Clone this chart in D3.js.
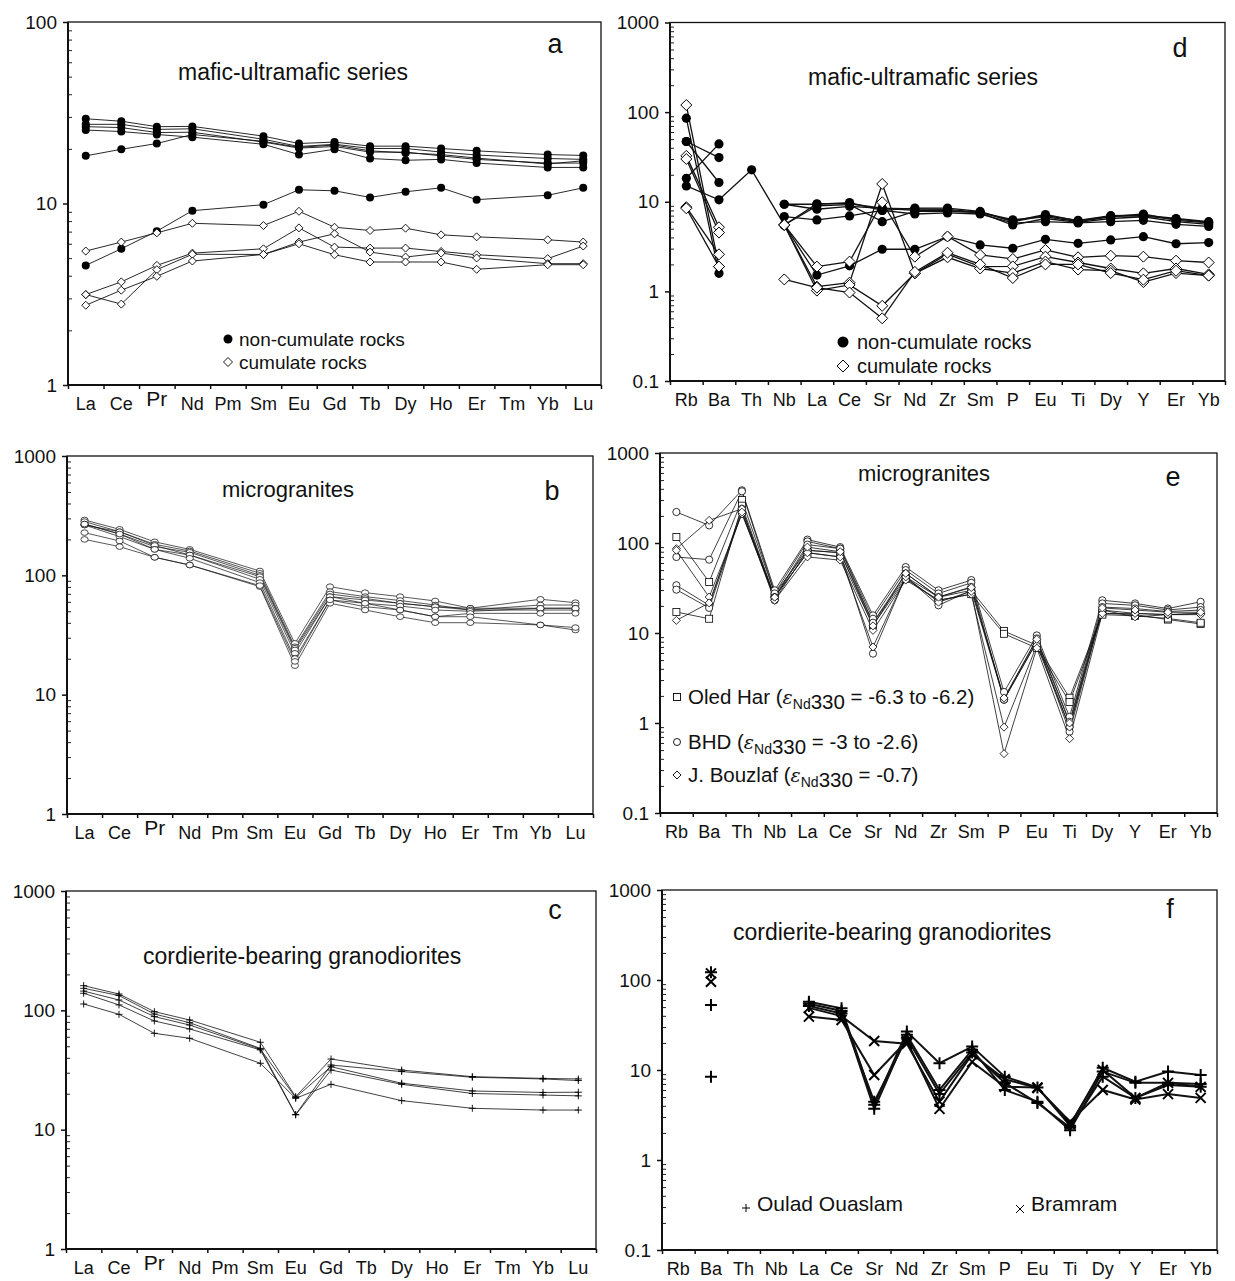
<!DOCTYPE html>
<html>
<head>
<meta charset="utf-8">
<script src="https://cdn.jsdelivr.net/npm/d3@7"></script>
<style>
  body { margin: 0; background: #fff; }
  svg { display: block; }
</style>
</head>
<body>
<svg id="fig" width="1235" height="1281"></svg>
<script>
var FONT = '"Liberation Sans", Arial, Helvetica, sans-serif'

// element orders
var REE = ['La','Ce','Pr','Nd','Pm','Sm','Eu','Gd','Tb','Dy','Ho','Er','Tm','Yb','Lu']
var SPIDER = ['Rb','Ba','Th','Nb','La','Ce','Sr','Nd','Zr','Sm','P','Eu','Ti','Dy','Y','Er','Yb']

// y tick labels
var ticks2 = [1, 10, 100]
var ticks3 = [1, 10, 100, 1000]
var ticks5 = [0.1, 1, 10, 100, 1000]

// a - REE, mafic-ultramafic
var aNonCumulate = [
  [29.3, 28.4, 26.5, 26.6, null, 23.5, 21.4, 21.8, 20.7, 20.7, 20.1, 19.5, null, 18.6, 18.4],
  [27.3, 27.3, 25.6, 25.8, null, 22.6, 20.6, 21.2, 20.1, 20.1, 19.2, 18.5, null, 17.7, 17.5],
  [26.5, 26.2, 24.6, 24.7, null, 21.8, 20.2, 20.6, 19.2, 19.2, 18.3, 17.5, null, 16.7, 16.7],
  [25.4, 24.9, 24.0, 23.2, null, 21.2, 18.6, 19.9, 17.7, 17.3, 17.5, 16.7, null, 15.8, 15.8],
  [18.3, 19.9, 21.4, 24.0, null, 22.0, 20.4, 21.0, 19.5, 19.0, 18.6, 17.8, null, 16.5, 17.2],
  [4.56, 5.63, 7.04, 9.13, null, 9.85, 11.9, 11.75, 10.8, 11.6, 12.2, 10.5, null, 11.1, 12.2]
]
var aCumulate = [
  [5.47, 6.13, 6.89, 7.78, null, 7.56, 9.06, 7.40, 7.10, 7.31, 6.72, 6.55, null, 6.31, 6.13],
  [3.15, 3.70, 4.56, 5.33, null, 5.63, 7.34, 5.75, 5.68, 5.68, 5.44, 5.22, null, 4.97, 5.83],
  [3.15, 2.79, 4.32, 5.25, null, 5.24, 6.13, 6.81, 5.40, 5.07, 5.33, 5.01, null, 4.66, 4.66],
  [2.75, 3.33, 3.97, 4.82, null, 5.24, 6.00, 5.22, 4.76, 4.76, 4.76, 4.34, null, 4.60, 4.60]
]

// b - REE, microgranites
var bMicrogranites = [
  [291, 243, 191, 165, null, 108.7, 26.9, 80.4, 71.6, 66.3, 61, 53, null, 63, 59],
  [282, 232, 182, 160, null, 104, 25.2, 73, 66.3, 61.5, 56.4, 51.2, null, 56.4, 56.4],
  [269, 222, 174, 156, null, 100, 24.5, 69.8, 64, 58.3, 54.6, 53, null, 53, 53],
  [264, 232, 178, 148, null, 97.5, 23.7, 66.3, 62.2, 58.3, 54.6, 51.2, null, 51.2, 51.2],
  [264, 211, 165, 148, null, 92.6, 22.2, 66.3, 58.3, 55.3, 51.2, 50, null, 53, 53],
  [269, 222, 165, 139, null, 86.9, 20.1, 62.2, 54.6, 51.2, 45, 48, null, 48, 48],
  [228, 194, 141.6, 122, null, 80.4, 17.5, 58.3, 51.2, 45, 40.1, 40.1, null, 38.4, 34.8],
  [200, 174, 141.6, 122, null, 82, 19, 62.2, 58.3, 51.2, 45, 45, null, 38.4, 36.5]
]

// c - REE, cordierite-bearing granodiorites
var cGranodiorites = [
  [161, 137, 97.5, 83, null, 54, 18.9, 39.1, null, 31.6, null, 27.8, null, 26.9, 26.6],
  [153, 133, 93.1, 78.8, null, 48, 13.4, 34.8, null, 30.7, null, 27.5, null, 26.6, 25.8],
  [145, 122, 88.6, 75.3, null, 47.4, 18.6, 33.7, null, 24.5, null, 21.1, null, 20.5, 20.6],
  [139, 111, 81.4, 69.8, null, 46.6, 13.3, 31.6, null, 24, null, 20.1, null, 19.5, 19.2],
  [113, 92.6, 64.2, 58.3, null, 36, 18.3, 24, null, 17.5, null, 15.1, null, 14.6, 14.6]
]

// d - spider, mafic-ultramafic
var dNonCumulate = [
  [85.5, 1.59, null, 9.38, 9.38, 9.8, 8.0, 8.5, 8.5, 7.8, 6.0, 7.0, 6.2, 7.0, 7.1, 6.5, 6.0],
  [47, 31.1, null, 9.38, 8.25, 8.9, 8.46, 8.0, 8.0, 7.5, 5.5, 6.5, 5.9, 6.5, 6.8, 6.0, 5.6],
  [18.3, 44.2, null, 6.83, 6.27, 6.95, 8.0, 7.3, 7.5, 7.3, 5.8, 6.0, 5.8, 6.0, 6.2, 5.6, 5.3],
  [47, 16.4, null, 5.51, 9.0, 9.3, 6.0, 7.8, 7.8, 7.6, 6.3, 6.8, 6.0, 6.8, 7.3, 6.2, 5.8],
  [15, 10.5, 22.7, 5.51, 9.5, 9.5, 8.46, 8.3, 8.2, 7.6, 6.1, 7.2, 6.1, 6.9, 6.9, 6.4, 5.9],
  [null, null, null, 5.51, 1.52, 1.93, 2.95, 2.95, 4.08, 3.3, 3.03, 3.81, 3.44, 3.75, 4.08, 3.4, 3.5]
]
var dCumulate = [
  [120, 1.89, null, 5.51, 1.89, 2.15, 9.87, 2.44, 4.1, 2.55, 2.3, 2.9, 2.4, 2.5, 2.44, 2.2, 2.1],
  [32.5, 5.19, null, 5.51, 1.13, 1.25, 15.8, 1.59, 2.6, 1.89, 1.9, 2.44, 2.1, 1.8, 1.59, 1.8, 1.55],
  [30, 4.53, null, 5.51, 1.02, 1.18, 0.69, 1.59, 2.4, 1.8, 1.6, 2.15, 1.75, 1.7, 1.27, 1.6, 1.5],
  [8.7, 2.59, null, 1.36, 1.10, 0.97, 0.50, 1.65, 2.7, 2.0, 1.41, 2.0, 2.0, 1.6, 1.35, 1.7, 1.5],
  [8.45, 1.89, null, null, null, null, null, null, null, null, null, null, null, null, null, null, null]
]

// e - spider, microgranites
var eOledHar = [
  [116.6, 36.9, 300, 27.5, 83, 78, 13, 42, 25, 29.8, 10.5, 7.3, 1.91, 16.5, 16.0, 14.1, 12.6],
  [17.1, 14.4, 260, 25.1, 78, 70, 12.2, 40, 23.1, 27, 9.8, 6.8, 1.71, 16.0, 15.5, 14.5, 13.0]
]
var eBHD = [
  [221, 157, 385, 29.8, 109, 90, 15.7, 54, 29.8, 38.7, 2.21, 9.4, 1.17, 23.1, 21.3, 18.7, 22.2],
  [69.9, 65.3, 375, 27.5, 104, 86.5, 14.4, 50, 27.5, 36.1, 1.82, 8.7, 1.03, 21.3, 20.3, 18.0, 19.4],
  [33.9, 20.3, 240, 25.1, 96, 86.5, 13.0, 46, 25.1, 32.5, 1.82, 8.0, 0.9, 19.4, 18.7, 17.3, 18.0],
  [30.3, 19, 220, 23.1, 83, 78, 5.9, 42.2, 20.3, 29.8, 1.82, 8.0, 0.8, 18.0, 16.5, 16.0, 16.5]
]
var eBouzlaf = [
  [86.5, 178.6, 240, 23.1, 70, 64.5, 10.7, 38.7, 23.1, 27, 0.90, 7.3, 0.9, 18, 15.1, 16, 16.5],
  [83, 25.1, 210, 25.1, 78, 70, 7.0, 42, 22, 29, 0.456, 6.8, 0.67, 16.5, 16.5, 16.0, 16.0],
  [13.8, 21.6, 220, 25, 90, 80, 12, 46, 25, 32, 1.9, 8.5, 1.0, 19, 18, 17, 17]
]

// f - spider, cordierite-bearing granodiorites
var fOuladOuaslam = [
  [null, 52.7, null, null, 57.4, 48.4, 4.1, 26.7, 11.9, 18.2, 8.43, 6.4, 2.4, 10.6, 7.42, 9.6, 8.8],
  [null, 8.43, null, null, 54.5, 45.3, 3.7, 24.6, 6.0, 16.8, 6.0, 4.45, 2.14, 9.6, 7.2, 7.2, 7.0],
  [null, 122, null, null, 51.5, 42.4, 4.45, 22.8, 5.4, 15.6, 7.2, 4.3, 2.3, 8.43, 4.9, 6.8, 6.5]
]
var fBramram = [
  [null, 118.6, null, null, 49, 39.7, 21, 19.6, 4.45, 15.0, 7.9, 6.3, 2.67, 6.0, 4.7, 5.4, 4.9],
  [null, 95.8, null, null, 39.2, 36, 8.8, 21.1, 3.7, 12.3, 6.5, 6.4, 2.5, 10.0, 4.9, 7.2, 6.5]
]

var svg = d3.select('#fig')

function marker(sel, type, s, sw) {
  if (type == 'dot') sel.append('circle').attr('r', s).attr('fill', '#000')
  if (type == 'ring') sel.append('ellipse').attr('rx', s).attr('ry', s * 0.78)
      .attr('fill', '#fff').attr('stroke', '#000').attr('stroke-width', sw)
  if (type == 'circle') sel.append('circle').attr('r', s)
      .attr('fill', '#fff').attr('stroke', '#000').attr('stroke-width', sw)
  if (type == 'diamond') sel.append('path').attr('d', 'M0,' + (-s) + 'L' + s + ',0L0,' + s + 'L' + (-s) + ',0Z')
      .attr('fill', '#fff').attr('stroke', '#000').attr('stroke-width', sw)
  if (type == 'square') sel.append('rect').attr('x', -s).attr('y', -s).attr('width', 2 * s).attr('height', 2 * s)
      .attr('fill', '#fff').attr('stroke', '#000').attr('stroke-width', sw)
  if (type == 'plus') sel.append('path').attr('d', 'M' + (-s) + ',0H' + s + 'M0,' + (-s) + 'V' + s)
      .attr('fill', 'none').attr('stroke', '#000').attr('stroke-width', sw)
  if (type == 'cross') sel.append('path').attr('d', 'M' + (-s) + ',' + (-s) + 'L' + s + ',' + s + 'M' + s + ',' + (-s) + 'L' + (-s) + ',' + s)
      .attr('fill', 'none').attr('stroke', '#000').attr('stroke-width', sw)
}

function txt(x, y, s, size, anchor) {
  return svg.append('text').attr('x', x).attr('y', y).attr('font-size', size)
    .attr('font-family', FONT).attr('fill', '#111').attr('text-anchor', anchor || 'start').text(s)
}

function drawPanel(p) {
  var n = p.cats.length
  var x = d3.scaleBand().domain(p.cats).range([p.left, p.right])
  var xEdge = d3.scaleLinear().domain([0, n]).range([p.left, p.right])
  var y = d3.scaleLog().domain(p.domain).range([p.bottom, p.top])
  var cx = function(c) { return x(c) + x.bandwidth() / 2 }
  var g = svg.append('g')

  // minor ticks, inside
  var minors = y.ticks().filter(function(v) {
    var l = Math.log10(v); return Math.abs(l - Math.round(l)) > 1e-6 })
  g.append('g').attr('transform', 'translate(' + p.left + ',0)')
      .call(d3.axisLeft(y).tickValues(minors).tickSizeInner(-4).tickSizeOuter(0).tickFormat(''))
      .call(function(a) { a.select('.domain').remove() })
      .selectAll('line').attr('stroke', '#222')

  // major ticks + labels
  var yax = g.append('g').attr('transform', 'translate(' + p.left + ',0)')
      .call(d3.axisLeft(y).tickValues(p.yTicks).tickSize(5).tickPadding(6).tickFormat(d3.format('~g')))
  yax.select('.domain').remove()
  yax.selectAll('line').attr('stroke', '#111').attr('stroke-width', 1.5)
  yax.selectAll('text').attr('font-size', 19).attr('font-family', FONT).attr('fill', '#111')

  // x ticks at band edges
  var xt = g.append('g').attr('transform', 'translate(0,' + p.bottom + ')')
      .call(d3.axisBottom(xEdge).tickValues(d3.range(n + 1)).tickSize(4).tickFormat(''))
  xt.select('.domain').remove()
  xt.selectAll('line').attr('stroke', '#111').attr('stroke-width', 1.5)

  // x labels at band centres
  var xl = g.append('g').attr('transform', 'translate(0,' + p.bottom + ')')
      .call(d3.axisBottom(x).tickSize(0))
  xl.select('.domain').remove()
  xl.selectAll('text').attr('font-size', 18).attr('font-family', FONT).attr('fill', '#111')
      .attr('dy', null).attr('y', 25)
      .filter(function(d) { return p.bigPr && d == 'Pr' })
      .attr('font-size', 21).attr('y', 21)

  // frame
  g.append('rect').attr('x', p.left).attr('y', p.top)
      .attr('width', p.right - p.left).attr('height', p.bottom - p.top)
      .attr('fill', 'none').attr('stroke', '#111').attr('stroke-width', 1.3)
  g.append('path').attr('d', 'M' + p.left + ',' + p.top + 'V' + p.bottom + 'H' + p.right)
      .attr('fill', 'none').attr('stroke', '#111').attr('stroke-width', 2)

  var line = d3.line().defined(function(d) { return d.v != null })
      .x(function(d) { return cx(d.c) }).y(function(d) { return y(d.v) })

  function pts(arr) {
    var r = p.cats.map(function(c, i) { return {c: c, v: arr[i]} })
    return p.connect ? r.filter(function(d) { return d.v != null }) : r
  }

  p.groups.forEach(function(gr) {
    gr.data.forEach(function(arr) {
      g.append('path').attr('d', line(pts(arr))).attr('fill', 'none')
        .attr('stroke', '#111').attr('stroke-width', p.lw)
    })
  })
  p.groups.forEach(function(gr) {
    gr.data.forEach(function(arr) {
      pts(arr).filter(function(d) { return d.v != null }).forEach(function(d) {
        var m = g.append('g').attr('transform', 'translate(' + cx(d.c) + ',' + y(d.v) + ')')
        marker(m, gr.marker, gr.size, gr.sw || 0.8)
      })
    })
  })
}

drawPanel({cats: REE, domain: [1, 100], yTicks: ticks2, left: 68, right: 601, top: 22, bottom: 385,
  connect: true, bigPr: true, lw: 0.9,
  groups: [{data: aNonCumulate, marker: 'dot', size: 4}, {data: aCumulate, marker: 'diamond', size: 4, sw: 0.9}]})
drawPanel({cats: REE, domain: [1, 1000], yTicks: ticks3, left: 67, right: 593, top: 456, bottom: 814,
  connect: true, bigPr: true, lw: 0.7,
  groups: [{data: bMicrogranites, marker: 'ring', size: 3.6, sw: 0.7}]})
drawPanel({cats: REE, domain: [1, 1000], yTicks: ticks3, left: 66, right: 596, top: 891, bottom: 1249,
  connect: true, bigPr: true, lw: 0.8,
  groups: [{data: cGranodiorites, marker: 'plus', size: 3.5, sw: 0.9}]})
drawPanel({cats: SPIDER, domain: [0.1, 1000], yTicks: ticks5, left: 670, right: 1225, top: 22.5, bottom: 381,
  connect: false, lw: 1.3,
  groups: [{data: dNonCumulate, marker: 'dot', size: 4.6}, {data: dCumulate, marker: 'diamond', size: 5.5, sw: 1}]})
drawPanel({cats: SPIDER, domain: [0.1, 1000], yTicks: ticks5, left: 660, right: 1217, top: 453, bottom: 813,
  connect: false, lw: 0.8,
  groups: [{data: eOledHar, marker: 'square', size: 3.5}, {data: eBHD, marker: 'circle', size: 3.6},
           {data: eBouzlaf, marker: 'diamond', size: 4}]})
drawPanel({cats: SPIDER, domain: [0.1, 1000], yTicks: ticks5, left: 662, right: 1217, top: 890, bottom: 1250,
  connect: false, lw: 2,
  groups: [{data: fOuladOuaslam, marker: 'plus', size: 6, sw: 2}, {data: fBramram, marker: 'cross', size: 5, sw: 2}]})

// titles and panel letters
txt(178, 80, 'mafic-ultramafic series', 23)
txt(555, 53, 'a', 27, 'middle')
txt(808, 85, 'mafic-ultramafic series', 23)
txt(1180, 57, 'd', 27, 'middle')
txt(222, 497, 'microgranites', 22)
txt(552, 500, 'b', 27, 'middle')
txt(858, 481, 'microgranites', 22)
txt(1173, 486, 'e', 27, 'middle')
txt(143, 964, 'cordierite-bearing granodiorites', 23)
txt(555, 919, 'c', 27, 'middle')
txt(733, 940, 'cordierite-bearing granodiorites', 23)
txt(1170, 918, 'f', 27, 'middle')

// legends
var legA = ['non-cumulate rocks', 'cumulate rocks']
marker(svg.append('g').attr('transform', 'translate(228,339)'), 'dot', 4.5)
txt(239, 346, legA[0], 19)
marker(svg.append('g').attr('transform', 'translate(228,362)'), 'diamond', 4.5, 0.9)
txt(239, 369, legA[1], 19)

marker(svg.append('g').attr('transform', 'translate(843,342)'), 'dot', 5.5)
txt(857, 349, legA[0], 20)
marker(svg.append('g').attr('transform', 'translate(843,366)'), 'diamond', 6, 1)
txt(857, 373, legA[1], 20)

var legE = [
  {m: 'square', y: 697, name: 'Oled Har (', rest: ' = -6.3 to -6.2)'},
  {m: 'circle', y: 742, name: 'BHD (', rest: ' = -3 to -2.6)'},
  {m: 'diamond', y: 775, name: 'J. Bouzlaf (', rest: ' = -0.7)'}
]
legE.forEach(function(l) {
  marker(svg.append('g').attr('transform', 'translate(677,' + l.y + ')'), l.m, l.m == 'diamond' ? 4 : 3.5, 0.9)
  var t = txt(688, l.y + 7, '', 20.5)
  t.append('tspan').text(l.name)
  t.append('tspan').attr('font-style', 'italic').attr('font-family', '"DejaVu Serif", serif').attr('font-size', 19).text('\u03b5')
  t.append('tspan').attr('font-size', 14).attr('dy', 5).text('Nd')
  t.append('tspan').text('330')
  t.append('tspan').attr('dy', -5).text(l.rest)
})

var legF = ['Oulad Ouaslam', 'Bramram']
marker(svg.append('g').attr('transform', 'translate(746,1208)'), 'plus', 4, 1)
txt(757, 1211, legF[0], 21)
marker(svg.append('g').attr('transform', 'translate(1020,1209)'), 'cross', 4, 1)
txt(1031, 1211, legF[1], 21)
</script>
</body>
</html>
